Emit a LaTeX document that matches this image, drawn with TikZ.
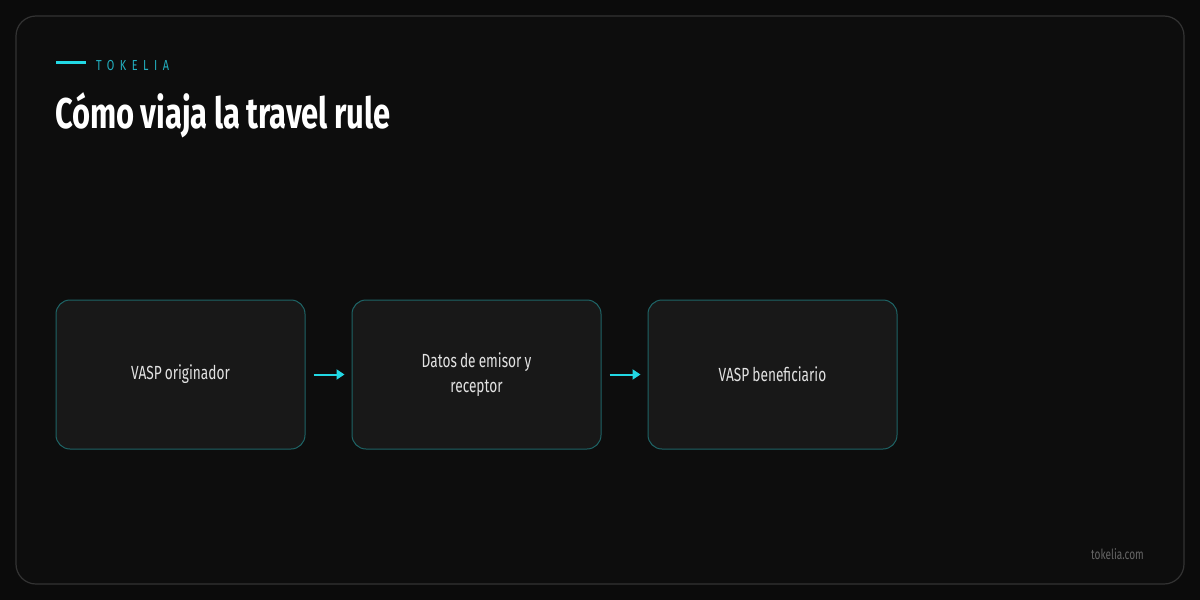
\documentclass[tikz,border=0pt]{standalone}
\usepackage{fontspec}
\setmainfont{Fira Sans}[FakeStretch=0.72,WordSpace=0.85]
\newfontfamily\brandfont{Fira Sans}[FakeStretch=0.75,LetterSpace=38]
\usetikzlibrary{arrows.meta}

\definecolor{bgdark}{HTML}{0B0B0B}
\definecolor{panel}{HTML}{0D0D0D}
\definecolor{panelline}{HTML}{333333}
\definecolor{boxfill}{HTML}{181818}
\definecolor{boxline}{HTML}{1E6466}
\definecolor{accent}{HTML}{22D8E4}
\definecolor{brandtext}{HTML}{22AFC0}
\definecolor{boxtext}{HTML}{E2E2E2}
\definecolor{foottext}{HTML}{666666}

\tikzset{
  stepbox/.style={draw=boxline, line width=1pt, fill=boxfill, rounded corners=14pt,
    minimum width=249pt, minimum height=149pt, align=center,
    text=boxtext, font=\fontsize{19}{25}\selectfont},
  flow/.style={draw=accent, line width=2pt, -{Triangle[length=8pt,width=10pt]}}
}

\begin{document}
\begin{tikzpicture}[x=1pt,y=-1pt]
    \useasboundingbox[fill=bgdark] (0,0) rectangle (1200,600);
    % Rahmen
    \draw[panelline, fill=panel, line width=1.2pt, rounded corners=20pt] (16,16) rectangle (1184,584);

    % Kopfzeile
    \coordinate (L1) at (56,62);
    \coordinate (L2) at (86,62);
    \draw[accent, line width=3pt] (L1) -- (L2);
    \node[anchor=west, inner sep=0pt, text=brandtext, font=\brandfont\fontsize{14.5}{14.5}\selectfont] (brand) at (96,66) {TOKELIA};
    \node[anchor=base west, inner sep=0pt, text=white, font=\fontsize{43}{43}\selectfont\bfseries] (title) at (55,128) {Cómo viaja la travel rule};

    % Ablauf
    \node[stepbox] (orig) at (180.5,374.5) {VASP originador};
    \node[stepbox] (datos) at (476.5,374.5) {Datos de emisor y\\receptor};
    \node[stepbox] (benef) at (772.5,374.5) {VASP beneficiario};

    \draw[flow] ([xshift=8pt]orig.east) -- ([xshift=-7pt]datos.west);
    \draw[flow] ([xshift=8pt]datos.east) -- ([xshift=-7pt]benef.west);

    % Fusszeile
    \node[anchor=base east, inner sep=0pt, text=foottext, font=\fontsize{14}{14}\selectfont] (site) at (1144,559) {tokelia.com};
\end{tikzpicture}
\end{document}
